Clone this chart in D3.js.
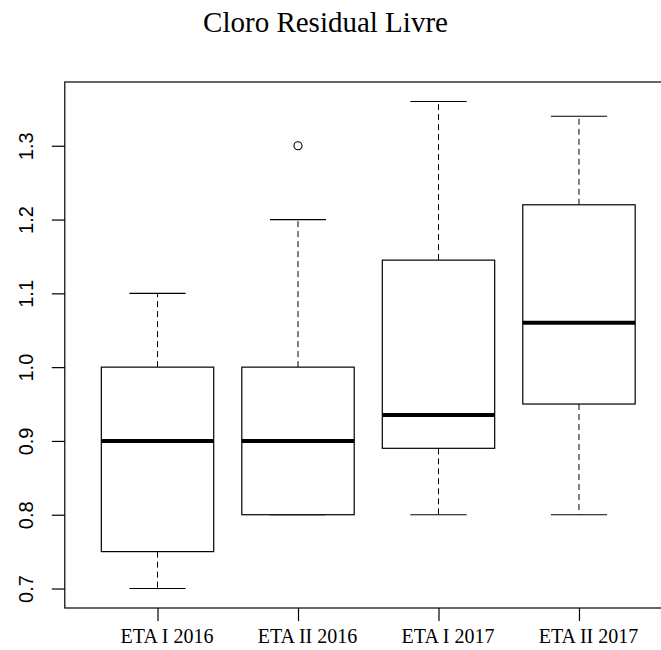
<!DOCTYPE html>
<html>
<head>
<meta charset="utf-8">
<script src="https://cdn.jsdelivr.net/npm/d3@7"></script>
<style>
html, body { margin: 0; padding: 0; background: #fff; }
svg { display: block; }
</style>
</head>
<body>
<script>
const categories = ["ETA I 2016", "ETA II 2016", "ETA I 2017", "ETA II 2017"];
const whiskerLow = [0.70, 0.80, 0.80, 0.80];
const q1 = [0.75, 0.80, 0.89, 0.95];
const medians = [0.90, 0.90, 0.935, 1.06];
const q3 = [1.00, 1.00, 1.145, 1.22];
const whiskerHigh = [1.10, 1.20, 1.36, 1.34];
const outliers = [[], [1.30], [], []];
const yTicks = [0.7, 0.8, 0.9, 1.0, 1.1, 1.2, 1.3];
const title = "Cloro Residual Livre";

const W = 661, H = 650;
const svg = d3.select("body").append("svg").attr("width", W).attr("height", H);

const plot = { left: 64.8, right: 671.7, top: 82, bottom: 608 };
const x = d3.scaleLinear().domain([0.34, 4.66]).range([plot.left, plot.right]);
const yMin = d3.min(whiskerLow), yMax = d3.max(whiskerHigh.concat(outliers.flat()));
const pad = (yMax - yMin) * 0.04;
const y = d3.scaleLinear().domain([yMin - pad, yMax + pad]).range([plot.bottom, plot.top]);

const boxW = 0.8, capW = 0.4;
const g = svg.append("g");

categories.forEach((c, i) => {
  const cx = i + 1;
  // whiskers (dashed)
  g.append("line").attr("x1", x(cx)).attr("x2", x(cx))
    .attr("y1", y(q3[i])).attr("y2", y(whiskerHigh[i]))
    .attr("stroke", "#000").attr("stroke-width", 1).attr("stroke-dasharray", "6,4");
  g.append("line").attr("x1", x(cx)).attr("x2", x(cx))
    .attr("y1", y(q1[i])).attr("y2", y(whiskerLow[i]))
    .attr("stroke", "#000").attr("stroke-width", 1).attr("stroke-dasharray", "6,4");
  // caps
  [whiskerHigh[i], whiskerLow[i]].forEach(v => {
    g.append("line").attr("x1", x(cx - capW / 2)).attr("x2", x(cx + capW / 2))
      .attr("y1", y(v)).attr("y2", y(v))
      .attr("stroke", "#000").attr("stroke-width", 1.2);
  });
  // box
  g.append("rect").attr("x", x(cx - boxW / 2)).attr("y", y(q3[i]))
    .attr("width", x(cx + boxW / 2) - x(cx - boxW / 2))
    .attr("height", y(q1[i]) - y(q3[i]))
    .attr("fill", "#fff").attr("stroke", "#000").attr("stroke-width", 1.2);
  // median
  g.append("line").attr("x1", x(cx - boxW / 2)).attr("x2", x(cx + boxW / 2))
    .attr("y1", y(medians[i])).attr("y2", y(medians[i]))
    .attr("stroke", "#000").attr("stroke-width", 4);
  // outliers
  outliers[i].forEach(v => {
    g.append("circle").attr("cx", x(cx)).attr("cy", y(v)).attr("r", 4)
      .attr("fill", "none").attr("stroke", "#000").attr("stroke-width", 1.1);
  });
});

// frame
svg.append("rect").attr("x", plot.left).attr("y", plot.top)
  .attr("width", plot.right - plot.left).attr("height", plot.bottom - plot.top)
  .attr("fill", "none").attr("stroke", "#000").attr("stroke-width", 1.2);

// y axis
const yAxis = svg.append("g").attr("transform", `translate(${plot.left},0)`)
  .call(d3.axisLeft(y).tickValues(yTicks).tickSize(13).tickFormat(d3.format(".1f")));
yAxis.select(".domain").remove();
yAxis.selectAll(".tick line").attr("stroke", "#000").attr("stroke-width", 1.2);
yAxis.selectAll(".tick text")
  .attr("font-family", "'Liberation Sans', Arial, sans-serif")
  .attr("font-size", 20).attr("fill", "#000")
  .attr("text-anchor", "middle")
  .attr("x", null).attr("dy", null)
  .attr("transform", "translate(-32,0) rotate(-90)");

// x axis
const xAxis = svg.append("g").attr("transform", `translate(0,${plot.bottom})`)
  .call(d3.axisBottom(x).tickValues(categories.map((c, i) => i + 1)).tickSize(13)
    .tickFormat((d) => categories[d - 1]));
xAxis.select(".domain").remove();
xAxis.selectAll(".tick line").attr("stroke", "#000").attr("stroke-width", 1.2);
xAxis.selectAll(".tick text")
  .attr("font-family", "'Liberation Serif', 'Times New Roman', serif")
  .attr("font-size", 20).attr("fill", "#000")
  .attr("dy", null).attr("y", 35).attr("dx", 9);

// title
svg.append("text").attr("x", 325.5).attr("y", 32)
  .attr("text-anchor", "middle")
  .attr("font-family", "'Liberation Serif', 'Times New Roman', serif")
  .attr("font-size", 29).attr("fill", "#000")
  .text(title);
</script>
</body>
</html>
